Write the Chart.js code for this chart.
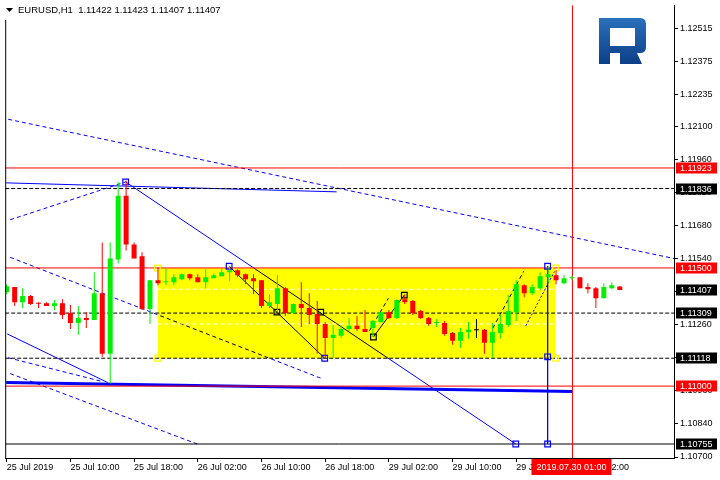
<!DOCTYPE html>
<html>
<head>
<meta charset="utf-8">
<script src="https://cdn.jsdelivr.net/npm/chart.js@4.4.1/dist/chart.umd.min.js"></script>
<style>
  html, body { margin: 0; padding: 0; background: #fff; }
  #wrap { width: 720px; height: 480px; position: relative; }
</style>
</head>
<body>
<div id="wrap"><canvas id="priceChart"></canvas></div>
<script>
// EURUSD H1, bars from 25 Jul 02:00 (index 0) to 30 Jul 07:00 (index 77)
const opens = [
  1.11398, 1.11419, 1.11355, 1.11381, 1.11353, 1.11351, 1.11339, 1.11351, 1.11309, 1.11267,
  1.11288, 1.11280, 1.11393, 1.11137, 1.11536, 1.11805, 1.11599, 1.11549, 1.11326, 1.11448,
  1.11440, 1.11440, 1.11452, 1.11473, 1.11461, 1.11440, 1.11456, 1.11465, 1.11482, 1.11490,
  1.11473, 1.11456, 1.11448, 1.11339, 1.11347, 1.11414, 1.11309, 1.11347, 1.11330, 1.11305,
  1.11263, 1.11204, 1.11213, 1.11242, 1.11255, 1.11242, 1.11246, 1.11271, 1.11313, 1.11288,
  1.11368, 1.11360, 1.11318, 1.11288, 1.11267, 1.11267, 1.11225, 1.11192, 1.11229, 1.11236,
  1.11238, 1.11183, 1.11225, 1.11259, 1.11313, 1.11427, 1.11393, 1.11414, 1.11461, 1.11469,
  1.11435, 1.11456, 1.11461, 1.11419, 1.11414, 1.11372, 1.11414, 1.11422
];
const highs = [
  1.11431, 1.11419, 1.11414, 1.11385, 1.11355, 1.11355, 1.11364, 1.11368, 1.11343, 1.11339,
  1.11313, 1.11482, 1.11608, 1.11608, 1.11864, 1.11870, 1.11608, 1.11566, 1.11448, 1.11503,
  1.11498, 1.11473, 1.11477, 1.11477, 1.11473, 1.11494, 1.11477, 1.11498, 1.11507, 1.11494,
  1.11477, 1.11473, 1.11448, 1.11389, 1.11469, 1.11419, 1.11351, 1.11440, 1.11393, 1.11360,
  1.11271, 1.11259, 1.11255, 1.11288, 1.11297, 1.11322, 1.11280, 1.11313, 1.11322, 1.11368,
  1.11389, 1.11364, 1.11322, 1.11292, 1.11284, 1.11276, 1.11229, 1.11246, 1.11271, 1.11284,
  1.11242, 1.11267, 1.11305, 1.11385, 1.11448, 1.11431, 1.11431, 1.11482, 1.11507, 1.11490,
  1.11469, 1.11469, 1.11461, 1.11435, 1.11419, 1.11435, 1.11440, 1.11423
];
const lows = [
  1.11389, 1.11339, 1.11330, 1.11343, 1.11330, 1.11339, 1.11322, 1.11284, 1.11242, 1.11217,
  1.11246, 1.11280, 1.11124, 1.11011, 1.11519, 1.11574, 1.11540, 1.11322, 1.11263, 1.11427,
  1.11427, 1.11427, 1.11448, 1.11448, 1.11440, 1.11414, 1.11456, 1.11465, 1.11444, 1.11461,
  1.11431, 1.11389, 1.11330, 1.11330, 1.11313, 1.11297, 1.11305, 1.11250, 1.11263, 1.11137,
  1.11118, 1.11120, 1.11204, 1.11234, 1.11234, 1.11229, 1.11208, 1.11267, 1.11284, 1.11284,
  1.11347, 1.11301, 1.11284, 1.11255, 1.11250, 1.11213, 1.11175, 1.11162, 1.11200, 1.11204,
  1.11137, 1.11120, 1.11200, 1.11250, 1.11276, 1.11376, 1.11385, 1.11406, 1.11435, 1.11431,
  1.11431, 1.11448, 1.11414, 1.11393, 1.11330, 1.11372, 1.11410, 1.11407
];
const closes = [
  1.11423, 1.11355, 1.11381, 1.11347, 1.11349, 1.11339, 1.11351, 1.11301, 1.11267, 1.11288,
  1.11280, 1.11393, 1.11137, 1.11540, 1.11805, 1.11599, 1.11540, 1.11326, 1.11448, 1.11435,
  1.11444, 1.11461, 1.11473, 1.11456, 1.11440, 1.11461, 1.11469, 1.11482, 1.11490, 1.11469,
  1.11452, 1.11444, 1.11339, 1.11355, 1.11414, 1.11309, 1.11347, 1.11330, 1.11301, 1.11263,
  1.11204, 1.11217, 1.11242, 1.11255, 1.11242, 1.11229, 1.11276, 1.11313, 1.11288, 1.11364,
  1.11355, 1.11309, 1.11288, 1.11263, 1.11271, 1.11221, 1.11192, 1.11229, 1.11238, 1.11236,
  1.11183, 1.11229, 1.11263, 1.11318, 1.11431, 1.11393, 1.11419, 1.11465, 1.11473, 1.11448,
  1.11456, 1.11461, 1.11414, 1.11410, 1.11372, 1.11419, 1.11427, 1.11407
];

const xTickIndex = [0, 8, 16, 24, 32, 40, 48, 56, 64, 72];
const xTickLabels = ['25 Jul 2019', '25 Jul 10:00', '25 Jul 18:00', '26 Jul 02:00', '26 Jul 10:00',
  '26 Jul 18:00', '29 Jul 02:00', '29 Jul 10:00', '29 Jul 18:00', '30 Jul 02:00'];
const yTickValues = [1.12515, 1.12375, 1.12235, 1.12100, 1.11960, 1.11820, 1.11680,
  1.11540, 1.11400, 1.11260, 1.11120, 1.10980, 1.10840, 1.10700];

// horizontal levels
const redLevels = [1.11923, 1.11500, 1.11000];
const dashLevels = [1.11836, 1.11309, 1.11118];
const solidLevels = [1.10755];
const priceTags = [1.11923, 1.11836, 1.11500, 1.11407, 1.11309, 1.11118, 1.11000, 1.10755];
const lastPrice = 1.11407;

// drawn objects, [bar index, price]
const fanTop = [[0.19, 1.12129], [83.81, 1.11540]];
const fanRise = [[0.44, 1.11704], [14.94, 1.11864]];
const flatTop = [[-0.06, 1.11860], [41.44, 1.11822]];
const mainDiag = [[14.94, 1.11864], [63.94, 1.10755]];
const fanMid = [[0.44, 1.11545], [39.56, 1.11032]];
const lowSolid = [[0.06, 1.11221], [12.69, 1.11015]];
const lowDash = [[0.19, 1.11120], [12.06, 1.11019]];
const lowDash2 = [[0.44, 1.11053], [23.94, 1.10755]];
const baseThick = [[-0.06, 1.11015], [71.06, 1.10977]];
const dropLine = [[27.94, 1.11507], [39.94, 1.11118]];
const riseLine = [[46.06, 1.11208], [49.94, 1.11385]];
const riseDashA = [[45.56, 1.11234], [47.94, 1.11372]];
const riseDashB = [[61.06, 1.11246], [64.94, 1.11486]];
const riseDotC = [[65.19, 1.11255], [68.94, 1.11494]];
const targetDrop = [[67.94, 1.11507], [67.94, 1.10755]];
const blueMarks = [[14.94, 1.11864], [27.94, 1.11507], [39.94, 1.11118], [63.94, 1.10755],
  [67.94, 1.11507], [67.94, 1.11124], [67.94, 1.10755]];
const blackMarks = [[33.94, 1.11313], [39.44, 1.11313], [46.06, 1.11208], [49.94, 1.11385]];
const zoneX = [18.94, 68.94];
const zoneTop = 1.11500, zoneBottom = 1.11118;
const zoneInner = [1.11410, 1.11263];
const timeMarkIdx = 71.06;
const timeMarkLabel = '2019.07.30 01:00';
const titleText = 'EURUSD,H1  1.11422 1.11423 1.11407 1.11407';

const X_MIN = -0.1875, X_MAX = 83.8125;
const Y_MIN = 1.106958, Y_MAX = 1.126118;
const FONT = "'Liberation Sans', Arial, sans-serif";

const candleColors = opens.map((o, i) =>
  closes[i] > o ? '#00f000' : (closes[i] < o ? '#ff0000' : '#000000'));
const bodies = opens.map((o, i) => ({ x: i, y: [o, closes[i]] }));
const wicks = lows.map((l, i) => ({ x: i, y: [l, highs[i]] }));

function pts(arr) { return arr.map(p => ({ x: p[0], y: p[1] })); }
function lineSet(points, color, width, dash, order, extra) {
  return Object.assign({
    type: 'line', data: pts(points), borderColor: color, borderWidth: width,
    borderDash: dash || [], pointRadius: 0, fill: false, order: order
  }, extra || {});
}
function markSet(points, color, order) {
  return {
    type: 'line', data: pts(points), showLine: false, pointStyle: 'rect', pointRadius: 4,
    pointBorderColor: color, pointBackgroundColor: 'rgba(0,0,0,0)', pointBorderWidth: 1.2, order: order
  };
}

const datasets = [
  // background objects (turn black under the yellow zone)
  lineSet(fanTop, '#0000ff', 1, [4, 3], 110),
  lineSet(fanRise, '#0000ff', 1, [4, 3], 109),
  lineSet(flatTop, '#0000ff', 1, [], 108),
  lineSet(mainDiag, '#0000ff', 1, [], 107),
  lineSet(fanMid, '#0000ff', 1, [4, 3], 106),
  lineSet(lowSolid, '#0000ff', 1, [], 105),
  lineSet(lowDash, '#0000ff', 1, [4, 3], 104),
  lineSet(lowDash2, '#0000ff', 1, [4, 3], 103),
  lineSet(baseThick, '#0000ff', 3, [], 102),
  lineSet(riseDashA, '#0000ff', 1, [4, 3], 101),
  lineSet(riseDashB, '#0000ff', 1, [4, 3], 100),
  { type: 'line', data: [], order: 60, blendStart: true, pointRadius: 0 },
  {
    type: 'line', data: pts([[zoneX[0], zoneTop], [zoneX[1], zoneTop]]), order: 50, blendEnd: true,
    borderWidth: 0, pointRadius: 0, backgroundColor: '#ffff00', fill: { value: zoneBottom }
  },
  ...zoneInner.map((p, k) => lineSet([[zoneX[0], p], [zoneX[1], p]], '#ffffff', 1, [4, 3], 45 - k)),
  ...redLevels.map((p, k) => lineSet([[X_MIN, p], [X_MAX, p]], '#ff0000', 1, [], 40 - k)),
  ...dashLevels.map((p, k) => lineSet([[X_MIN, p], [X_MAX, p]], '#000000', 1, [4, 2], 36 - k)),
  ...solidLevels.map((p, k) => lineSet([[X_MIN, p], [X_MAX, p]], '#000000', 1, [], 32 - k)),
  lineSet(dropLine, '#000000', 1, [], 30),
  lineSet(riseLine, '#000000', 1, [], 29),
  lineSet(riseDotC, '#0000ff', 1, [2, 2], 28),
  lineSet([[timeMarkIdx, Y_MIN], [timeMarkIdx, Y_MAX]], '#ff0000', 1, [], 25),
  lineSet(targetDrop, '#0000ff', 1, [], 24),
  markSet(pts === null ? [] : [[zoneX[0], zoneTop], [zoneX[0], zoneBottom], [zoneX[1], zoneTop], [zoneX[1], zoneBottom]], '#ffff00', 12),
  markSet(blueMarks, '#0000ff', 11),
  markSet(blackMarks, '#000000', 10),
  { type: 'bar', data: wicks, backgroundColor: candleColors, barThickness: 1, grouped: false,
    borderWidth: 0, inflateAmount: 0, order: 2 },
  { type: 'bar', data: bodies, backgroundColor: candleColors, barThickness: 5, grouped: false,
    borderWidth: 0, inflateAmount: 0, minBarLength: 1, order: 1 }
];

const blendPlugin = {
  id: 'blendZone',
  afterDatasetDraw(chart, args) {
    const ds = chart.data.datasets[args.index];
    if (ds.blendStart) chart.ctx.globalCompositeOperation = 'multiply';
    if (ds.blendEnd) chart.ctx.globalCompositeOperation = 'source-over';
  }
};

function tag(ctx, text, x, y, w, h, bg) {
  ctx.fillStyle = bg;
  ctx.fillRect(x, y, w, h);
  ctx.fillStyle = '#ffffff';
  ctx.font = '9px ' + FONT;
  ctx.textBaseline = 'middle';
  ctx.textAlign = 'left';
  ctx.fillText(text, x + 4, y + h / 2 + 0.5);
}

const decorPlugin = {
  id: 'decor',
  afterDraw(chart) {
    const ctx = chart.ctx;
    const area = chart.chartArea;
    const ys = chart.scales.y, xs = chart.scales.x;
    ctx.save();
    // left frame
    ctx.strokeStyle = '#000';
    ctx.lineWidth = 1;
    ctx.beginPath();
    ctx.moveTo(area.left + 0.5, 20);
    ctx.lineTo(area.left + 0.5, area.bottom);
    ctx.stroke();

    // title
    ctx.fillStyle = '#000';
    ctx.beginPath();
    ctx.moveTo(6, 8); ctx.lineTo(13, 8); ctx.lineTo(9.5, 12); ctx.closePath();
    ctx.fill();
    ctx.font = '9.5px ' + FONT;
    ctx.textBaseline = 'middle';
    ctx.textAlign = 'left';
    ctx.fillText(titleText, 18, 10.5);

    // logo
    const g = ctx.createLinearGradient(0, 18, 0, 64);
    g.addColorStop(0, '#2a70bb');
    g.addColorStop(1, '#0c3f87');
    ctx.fillStyle = g;
    ctx.beginPath();
    ctx.moveTo(599, 18); ctx.lineTo(640, 18);
    ctx.quadraticCurveTo(646, 18, 646, 24);
    ctx.lineTo(646, 47);
    ctx.quadraticCurveTo(646, 53, 640, 53);
    ctx.lineTo(637, 53); ctx.lineTo(642, 64); ctx.lineTo(620, 64); ctx.lineTo(620, 53);
    ctx.lineTo(610, 53); ctx.lineTo(610, 64); ctx.lineTo(599, 64); ctx.closePath();
    ctx.moveTo(610, 28); ctx.lineTo(610, 46); ctx.lineTo(635, 46); ctx.lineTo(635, 28); ctx.closePath();
    ctx.fill('evenodd');

    // price tags on the right axis
    priceTags.forEach(p => {
      const y = Math.round(ys.getPixelForValue(p));
      const red = redLevels.includes(p);
      tag(ctx, p.toFixed(5), area.right + 2, y - 5.5, 41, 11, red ? '#ff0000' : '#000000');
    });

    // time tag on the bottom axis
    const tx = xs.getPixelForValue(timeMarkIdx);
    ctx.fillStyle = '#ff0000';
    ctx.fillRect(tx - 41, area.bottom + 1, 80, 16);
    ctx.fillStyle = '#fff';
    ctx.font = '9px ' + FONT;
    ctx.textAlign = 'center';
    ctx.textBaseline = 'middle';
    ctx.fillText(timeMarkLabel, tx - 1, area.bottom + 9.5);
    ctx.restore();
  }
};

new Chart(document.getElementById('priceChart'), {
  type: 'bar',
  data: { datasets: datasets },
  options: {
    responsive: true,
    maintainAspectRatio: false,
    animation: false,
    events: [],
    layout: { padding: { left: 2, top: 2, right: 0, bottom: 0 } },
    plugins: { legend: { display: false }, tooltip: { enabled: false } },
    scales: {
      x: {
        type: 'linear', min: X_MIN, max: X_MAX, offset: false,
        grid: { drawOnChartArea: false, tickLength: 4, color: '#000', offset: false },
        border: { color: '#000' },
        ticks: {
          autoSkip: false, maxRotation: 0, minRotation: 0, align: 'start', padding: 0,
          color: '#000', font: { family: FONT, size: 9 },
          callback: v => { const k = xTickIndex.indexOf(v); return k >= 0 ? xTickLabels[k] : ''; }
        },
        afterBuildTicks: s => { s.ticks = xTickIndex.map(v => ({ value: v })); },
        afterFit: s => { s.height = 22; s.paddingLeft = 0; s.paddingRight = 0; }
      },
      y: {
        type: 'linear', position: 'right', min: Y_MIN, max: Y_MAX,
        grid: { drawOnChartArea: false, tickLength: 4, color: '#000' },
        border: { color: '#000' },
        ticks: { padding: 2, color: '#000', font: { family: FONT, size: 9 }, callback: v => v.toFixed(5) },
        afterBuildTicks: s => { s.ticks = yTickValues.map(v => ({ value: v })); },
        afterFit: s => { s.width = 46; s.paddingTop = 0; s.paddingBottom = 0; }
      }
    }
  },
  plugins: [blendPlugin, decorPlugin]
});
</script>
</body>
</html>
